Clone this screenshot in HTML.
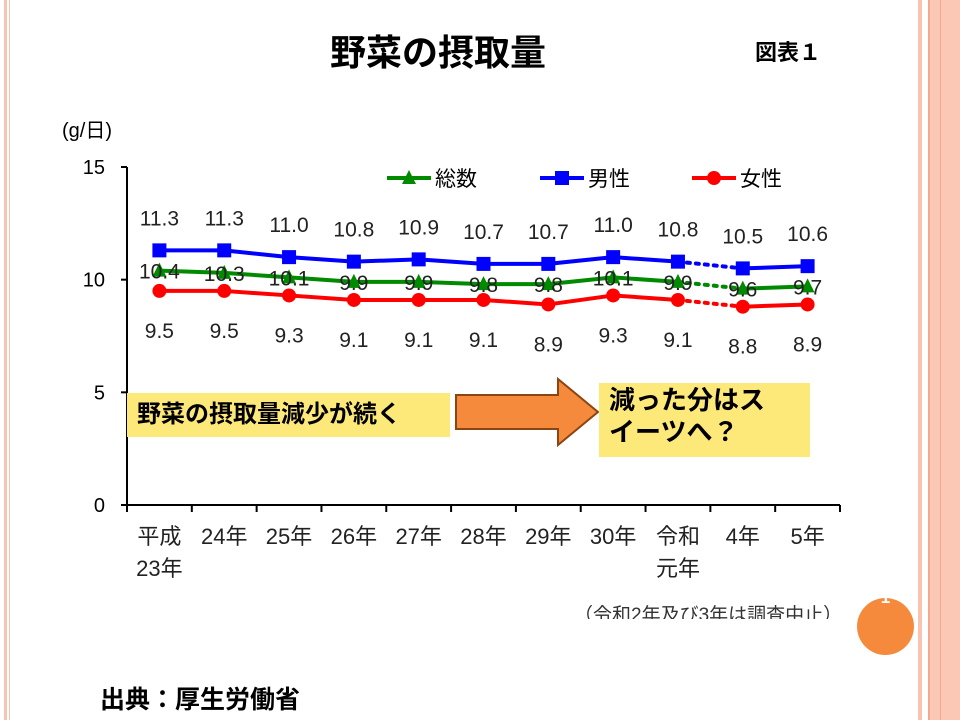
<!DOCTYPE html>
<html><head><meta charset="utf-8"><style>
body{margin:0;width:960px;height:720px;background:#fff;position:relative;overflow:hidden;font-family:"Liberation Sans","Noto Sans CJK JP",sans-serif}
.abs{position:absolute}
</style></head><body>
<div class="abs" style="left:4px;top:0;width:3px;height:720px;background:#f7c4b3"></div>
<div class="abs" style="left:9px;top:0;width:1px;height:720px;background:#f7c4b3"></div>
<div class="abs" style="left:918px;top:0;width:4px;height:720px;background:#f9c3b0"></div>
<div class="abs" style="left:928px;top:0;width:32px;height:720px;background:#fbc8b6;border-left:2px solid #f2a98f"></div>
<div class="abs" style="left:940px;top:0;width:1px;height:720px;background:#f2a98f"></div>
<div class="abs" style="left:330px;top:24px;font-size:36px;font-weight:bold;color:#000">野菜の摂取量</div>
<div class="abs" style="left:755px;top:35px;font-size:22px;font-weight:bold">図表１</div>
<svg class="abs" style="left:0;top:0" width="960" height="720">
<text x="62" y="137" font-size="20">(g/日)</text>
<g id="axes"></g><g id="series"></g>
</svg>
<div class="abs" style="left:574px;top:600px;font-size:19px;color:#333;height:19px;overflow:hidden;white-space:nowrap">（令和2年及び3年は調査中止）</div>
<div class="abs" style="left:857px;top:598px;width:57px;height:57px;border-radius:50%;background:#f58a3c;color:#fff;font-weight:bold;font-size:17px;text-align:center;line-height:56px"><span style="position:relative;top:-28px">1</span></div>
<div class="abs" style="left:127px;top:393px;width:323px;height:44px;background:#fde97a;font-size:24px;font-weight:bold;line-height:44px;padding-left:10px;box-sizing:border-box;white-space:nowrap">野菜の摂取量減少が続く</div>
<svg class="abs" style="left:450px;top:375px" width="155" height="75"><polygon points="6,20 108,20 108,4 148,37 108,70 108,54 6,54" fill="#f58a3c" stroke="#8b4513" stroke-width="2"/></svg>
<div class="abs" style="left:599px;top:383px;width:211px;height:74px;background:#fde97a;font-size:26px;font-weight:bold;line-height:32px;padding:1px 0 0 10px;box-sizing:border-box;white-space:nowrap">減った分はス<br>イーツへ？</div>
<div class="abs" style="left:100px;top:680px;font-size:25px;font-weight:bold">出典：厚生労働省</div>
<script>
const categories=[["平成","23年"],["24年"],["25年"],["26年"],["27年"],["28年"],["29年"],["30年"],["令和","元年"],["4年"],["5年"]];
const totalValues=[10.4,10.3,10.1,9.9,9.9,9.8,9.8,10.1,9.9,9.6,9.7];
const maleValues=[11.3,11.3,11.0,10.8,10.9,10.7,10.7,11.0,10.8,10.5,10.6];
const femaleValues=[9.5,9.5,9.3,9.1,9.1,9.1,8.9,9.3,9.1,8.8,8.9];
const yTicks=[0,5,10,15];
const gapAfter=8;
const NS="http://www.w3.org/2000/svg";
const X0=127,X1=840,Y0=505,Y1=167,YMAX=15;
const step=(X1-X0)/categories.length;
const xs=i=>X0+step*(i+0.5);
const ys=v=>Y0-(Y0-Y1)*v/YMAX;
function mk(tag,attrs,parent,txt){const e=document.createElementNS(NS,tag);for(const k in attrs)e.setAttribute(k,attrs[k]);if(txt!==undefined)e.textContent=txt;parent.appendChild(e);return e;}
const ax=document.getElementById('axes'),sg=document.getElementById('series');
let e=mk('line',{x1:X0,y1:Y1,x2:X0,y2:Y0,stroke:'#000','stroke-width':2},ax);


e=mk('line',{x1:X0,y1:Y0,x2:X1,y2:Y0,stroke:'#000','stroke-width':2},ax);


yTicks.forEach(t=>{
 mk('line',{x1:X0-6,y1:ys(t),x2:X0,y2:ys(t),stroke:'#000','stroke-width':2},ax);
 const l=mk('text',{x:X0-22,y:ys(t)+7,'font-size':20,'text-anchor':'end'},ax,t);
 
 
});
for(let i=0;i<=categories.length;i++)mk('line',{x1:X0+step*i,y1:Y0,x2:X0+step*i,y2:Y0+7,stroke:'#000','stroke-width':2},ax);
categories.forEach((c,i)=>{c.forEach((s,j)=>{
 const l=mk('text',{x:xs(i),y:544+j*32,'font-size':22,'text-anchor':'middle',fill:'#222'},ax,s);
 
 
});});
function series(vals,color,name,marker,labelDy){
 const g=mk('g',{},sg);
 
 
 for(let i=0;i<vals.length-1;i++){
  const dotted=i===gapAfter;
  mk('line',{x1:xs(i),y1:ys(vals[i]),x2:xs(i+1),y2:ys(vals[i+1]),stroke:color,'stroke-width':4,'stroke-dasharray':dotted?'3 6':'none','stroke-linecap':dotted?'round':'butt'},g);
 }
 vals.forEach((v,i)=>{
  const x=xs(i),y=ys(v);let m;
  if(marker==='sq')m=mk('rect',{x:x-7,y:y-7,width:14,height:14,fill:color},g);
  else if(marker==='tri')m=mk('polygon',{points:`${x},${y-8} ${x+7},${y+6} ${x-7},${y+6}`,fill:color},g);
  else m=mk('circle',{cx:x,cy:y,r:7,fill:color},g);
  
  
  const t=mk('text',{x:x,y:y+labelDy,'font-size':21,'text-anchor':'middle',fill:'#222'},g,v.toFixed(1));
  
  
 });
}
series(maleValues,'#0000ff','male','sq',-25);
series(femaleValues,'#ff0000','female','circ',47);
series(totalValues,'#008a00','total','tri',8);
const legend=[['総数','#008a00','tri',387],['男性','#0000ff','sq',540],['女性','#ff0000','circ',692]];
legend.forEach(([n,c,m,x])=>{
 const g=mk('g',{},sg);
 
 
 mk('line',{x1:x,y1:178,x2:x+44,y2:178,stroke:c,'stroke-width':4},g);
 const cx=x+22;
 if(m==='sq')mk('rect',{x:cx-7,y:171,width:14,height:14,fill:c},g);
 else if(m==='tri')mk('polygon',{points:`${cx},170 ${cx+7},184 ${cx-7},184`,fill:c},g);
 else mk('circle',{cx:cx,cy:178,r:7,fill:c},g);
 mk('text',{x:x+48,y:186,'font-size':21},g,n);
});
</script>
</body></html>
